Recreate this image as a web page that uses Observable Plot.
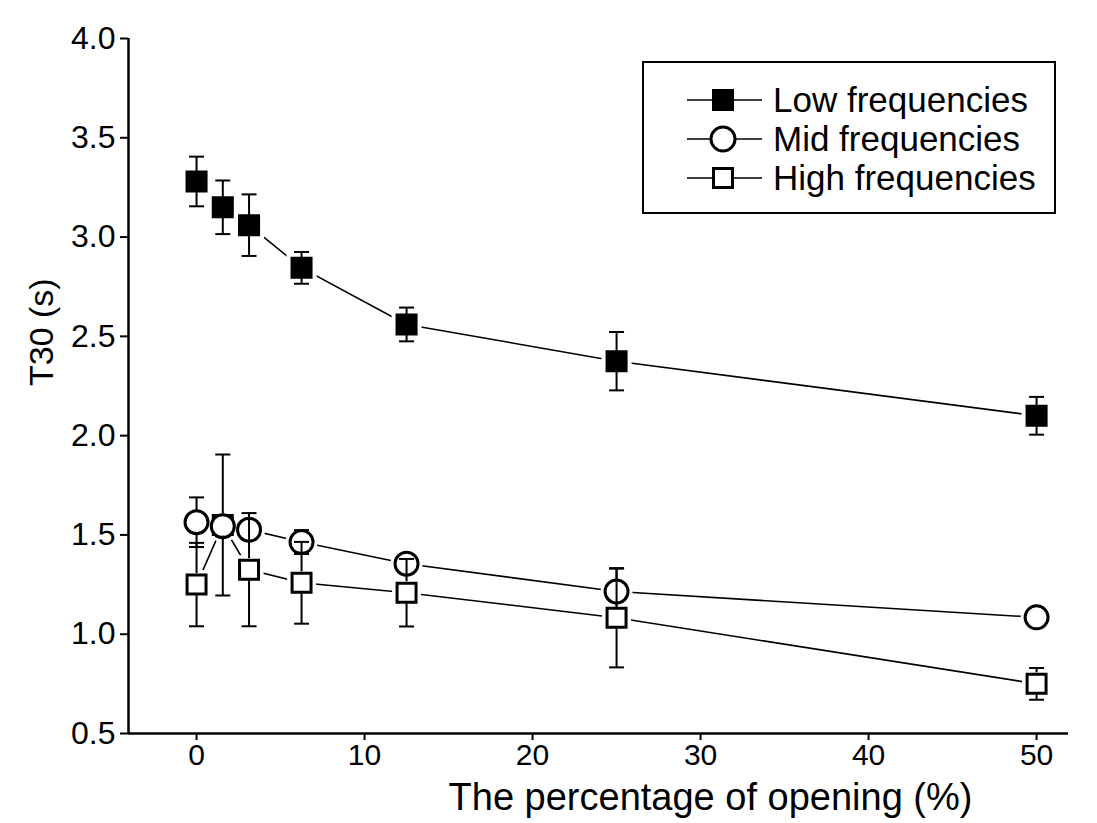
<!DOCTYPE html>
<html><head><meta charset="utf-8">
<script src="https://cdn.jsdelivr.net/npm/d3@7"></script>
<script src="https://cdn.jsdelivr.net/npm/@observablehq/plot@0.6"></script>
<style>
body{margin:0;background:#fff;}
#chart{position:relative;width:1097px;height:823px;}
</style></head><body><div id="chart"></div>
<script>
// ---- data ----
const openingPct = [0, 1.5625, 3.125, 6.25, 12.5, 25, 50];
const lowT30  = [3.28, 3.15, 3.06, 2.845, 2.56, 2.375, 2.10];
const lowErr  = [0.125, 0.135, 0.155, 0.08, 0.085, 0.147, 0.095];
const midT30  = [1.564, 1.544, 1.526, 1.464, 1.355, 1.215, 1.085];
const midErr  = [0.125, 0.05, 0.045, 0.06, 0.045, 0.115, 0.02];
const highT30 = [1.25, 1.55, 1.325, 1.259, 1.209, 1.083, 0.75];
const highErr = [0.21, 0.355, 0.285, 0.206, 0.17, 0.25, 0.08];
const seriesNames = ["Low frequencies", "Mid frequencies", "High frequencies"];
const yTicks = [0.5, 1.0, 1.5, 2.0, 2.5, 3.0, 3.5, 4.0];
const xTicks = [0, 10, 20, 30, 40, 50];
const xLabel = "The percentage of opening (%)";
const yLabel = "T30 (s)";

const rows = (vals, errs, name) => openingPct.map((x, i) => ({x, y: vals[i], e: errs[i], series: name}));
const low = rows(lowT30, lowErr, seriesNames[0]);
const mid = rows(midT30, midErr, seriesNames[1]);
const high = rows(highT30, highErr, seriesNames[2]);

const FONT = "'Liberation Sans', Arial, Helvetica, sans-serif";
const cap = {draw(ctx) { ctx.moveTo(-7.5, 0); ctx.lineTo(7.5, 0); }};
const xDomain = [-4.05, 51.9];
const yDomain = [0.5, 4.0];

function errBars(data) {
  return [
    Plot.ruleX(data, {x: "x", y1: d => d.y - d.e, y2: d => d.y + d.e, stroke: "black", strokeWidth: 2}),
    Plot.dot(data, {x: "x", y: d => d.y + d.e, symbol: cap, r: 4, stroke: "black", strokeWidth: 2}),
    Plot.dot(data, {x: "x", y: d => d.y - d.e, symbol: cap, r: 4, stroke: "black", strokeWidth: 2})
  ];
}

const chart = Plot.plot({
  width: 1097, height: 823,
  marginLeft: 128, marginRight: 29, marginTop: 38, marginBottom: 90,
  style: {fontFamily: FONT, fontSize: "31px", color: "black", background: "white"},
  x: {domain: xDomain},
  y: {domain: yDomain},
  marks: [
    // connecting lines
    Plot.line(low, {x: "x", y: "y", stroke: "black", strokeWidth: 1.6}),
    Plot.line(mid, {x: "x", y: "y", stroke: "black", strokeWidth: 1.6}),
    Plot.line(high, {x: "x", y: "y", stroke: "black", strokeWidth: 1.6}),
    // halos to make the small gaps around symbols
    Plot.dot(low, {x: "x", y: "y", symbol: "square", r: 11.3, fill: "white", stroke: "white", strokeWidth: 10}),
    Plot.dot(mid, {x: "x", y: "y", symbol: "circle", r: 11.5, fill: "white", stroke: "white", strokeWidth: 9}),
    Plot.dot(high, {x: "x", y: "y", symbol: "square", r: 10.7, fill: "white", stroke: "white", strokeWidth: 10}),
    // low series
    ...errBars(low),
    Plot.dot(low, {x: "x", y: "y", symbol: "square", r: 11.3, fill: "black", stroke: "black", strokeWidth: 2}),
    // mid error bars, high squares, then mid circles
    ...errBars(mid),
    Plot.dot(high, {x: "x", y: "y", symbol: "square", r: 10.7, fill: "white", stroke: "black", strokeWidth: 3}),
    Plot.dot(mid, {x: "x", y: "y", symbol: "circle", r: 11.5, fill: "white", stroke: "black", strokeWidth: 3}),
    // high error bars on top (upper and lower halves outside the square)
    Plot.ruleX(high, {x: "x", y1: d => d.y + d.e, y2: d => d.y, insetBottom: 11, stroke: "black", strokeWidth: 2}),
    Plot.ruleX(high, {x: "x", y1: d => d.y, y2: d => d.y - d.e, insetTop: 11, stroke: "black", strokeWidth: 2}),
    Plot.dot(high, {x: "x", y: d => d.y + d.e, symbol: cap, r: 4, stroke: "black", strokeWidth: 2}),
    Plot.dot(high, {x: "x", y: d => d.y - d.e, symbol: cap, r: 4, stroke: "black", strokeWidth: 2}),
    // axes
    Plot.axisY({ticks: yTicks, tickFormat: d3.format(".1f"), tickSize: 8, tickPadding: 5, strokeWidth: 2, fontSize: 32, label: null}),
    Plot.axisX({ticks: xTicks, tickFormat: d3.format("d"), tickSize: 7, tickPadding: 3, strokeWidth: 2, fontSize: 30, label: null}),
    Plot.ruleX([xDomain[0]], {stroke: "black", strokeWidth: 2.5}),
    Plot.ruleY([yDomain[0]], {stroke: "black", strokeWidth: 2.5}),
    Plot.text([xLabel], {frameAnchor: "bottom", dx: 112, dy: 76, fontSize: 38, fill: "black"}),
    Plot.text([yLabel], {frameAnchor: "left", rotate: -90, dx: -86, fontSize: 34, fill: "black"})
  ]
});

// legend box inside the plot area
const svg = d3.select(chart);
const lg = svg.append("g").attr("font-family", FONT).attr("text-anchor", "start");
lg.append("rect").attr("x", 643).attr("y", 62).attr("width", 412).attr("height", 151)
  .attr("fill", "white").attr("stroke", "black").attr("stroke-width", 2);
const rowY = [100, 139, 178];
seriesNames.forEach((name, i) => {
  const y = rowY[i];
  lg.append("line").attr("x1", 687).attr("x2", 762).attr("y1", y).attr("y2", y)
    .attr("stroke", "black").attr("stroke-width", 1.6);
  if (i === 1) {
    lg.append("circle").attr("cx", 723).attr("cy", y).attr("r", 12).attr("fill", "white")
      .attr("stroke", "black").attr("stroke-width", 3);
  } else {
    const s = i === 0 ? 20 : 19;
    lg.append("rect").attr("x", 723 - s / 2).attr("y", y - s / 2).attr("width", s).attr("height", s)
      .attr("fill", i === 0 ? "black" : "white").attr("stroke", "black").attr("stroke-width", i === 0 ? 2 : 3);
  }
  lg.append("text").attr("x", 773).attr("y", y).attr("dy", "0.35em").attr("text-anchor", "start")
    .attr("font-size", 35).attr("fill", "black").text(name);
});

document.getElementById("chart").appendChild(chart);
</script>
</body></html>
